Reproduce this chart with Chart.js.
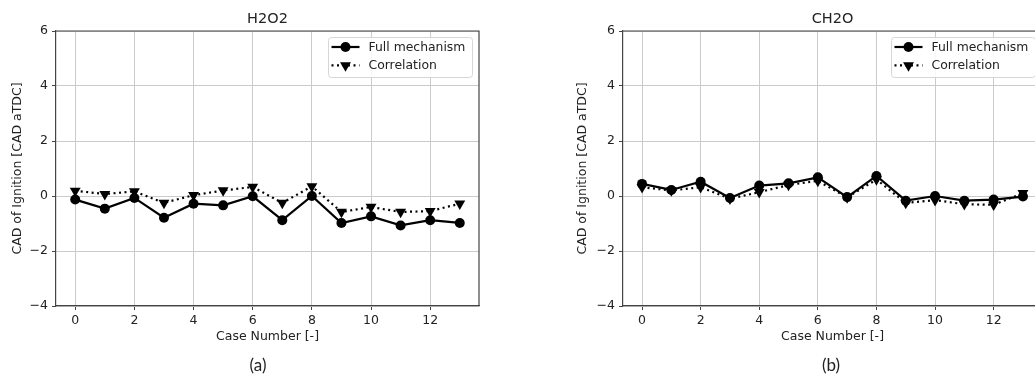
<!DOCTYPE html>
<html>
<head>
<meta charset="utf-8">
<script src="https://cdn.jsdelivr.net/npm/chart.js@4.4.1/dist/chart.umd.min.js"></script>
<style>
  html, body { margin: 0; padding: 0; background: #fff; }
  body { width: 1035px; height: 378px; overflow: hidden; position: relative; }
  canvas { position: absolute; top: 0; }
  #h2o2 { left: 0; }
  #ch2o { left: 517px; }
</style>
</head>
<body>
<canvas id="h2o2" width="517" height="378"></canvas>
<canvas id="ch2o" width="563" height="378"></canvas>
<script>
// Ignition timing per case: full chemistry vs. the fitted correlation
const caseNumbers = [0, 1, 2, 3, 4, 5, 6, 7, 8, 9, 10, 11, 12, 13];
const h2o2Full = [-0.13, -0.46, -0.07, -0.79, -0.28, -0.34, -0.01, -0.88, 0.0, -0.98, -0.74, -1.07, -0.88, -0.98];
const h2o2Corr = [0.19, 0.07, 0.17, -0.25, 0.03, 0.20, 0.33, -0.25, 0.35, -0.58, -0.40, -0.58, -0.55, -0.28];
const ch2oFull = [0.44, 0.22, 0.52, -0.07, 0.38, 0.46, 0.68, -0.04, 0.73, -0.17, 0.0, -0.17, -0.13, -0.02];
const ch2oCorr = [0.32, 0.20, 0.32, -0.10, 0.14, 0.40, 0.55, -0.05, 0.60, -0.25, -0.15, -0.30, -0.32, 0.10];
const xTicks = [0, 2, 4, 6, 8, 10, 12];
const yTicks = [-4, -2, 0, 2, 4, 6];
const seriesNames = ['Full mechanism', 'Correlation'];

const TEXT = '#222';
const SPINE = '#444';
const GRID = '#cbcbcb';
const FONT = '"DejaVu Sans", sans-serif';
const CIRCLE_R = 5;
const TRI_R = 6.3;

Chart.defaults.font.family = FONT;
Chart.defaults.font.size = 12.5;
Chart.defaults.color = TEXT;

const toPoints = ys => caseNumbers.map((x, i) => ({ x: x, y: ys[i] }));

// draws the top/right spines, the title, the legend box and the sub-caption
const figureDecor = {
    id: 'figureDecor',
    afterDraw(chart, args, opts) {
        const { ctx, chartArea: a } = chart;
        ctx.save();

        ctx.strokeStyle = SPINE;
        ctx.lineWidth = 1.2;
        ctx.beginPath();
        ctx.moveTo(a.left, a.top);
        ctx.lineTo(a.right, a.top);
        ctx.lineTo(a.right, a.bottom);
        ctx.stroke();

        ctx.fillStyle = TEXT;
        ctx.textAlign = 'center';
        ctx.textBaseline = 'middle';
        ctx.font = '14.5px ' + FONT;
        ctx.fillText(opts.title, (a.left + a.right) / 2, a.top - 12);

        ctx.font = '17px Lato, "Open Sans", sans-serif';
        ctx.fillText(opts.caption, opts.captionX, 366);

        // legend
        const w = 144, h = 40;
        const bx = a.right - 7 - w, by = a.top + 6;
        ctx.fillStyle = 'rgba(255,255,255,0.85)';
        ctx.strokeStyle = '#d6d6d6';
        ctx.lineWidth = 1;
        ctx.beginPath();
        ctx.roundRect(bx + 0.5, by + 0.5, w, h, 3);
        ctx.fill();
        ctx.stroke();

        const rows = [
            { label: seriesNames[0], dash: [], marker: 'circle' },
            { label: seriesNames[1], dash: [2, 3.5], marker: 'triangle' }
        ];
        rows.forEach((r, i) => {
            const y = by + 10 + i * 18.4;
            ctx.strokeStyle = '#000';
            ctx.lineWidth = 2.2;
            ctx.setLineDash(r.dash);
            ctx.beginPath();
            ctx.moveTo(bx + 3.5, y);
            ctx.lineTo(bx + 31.5, y);
            ctx.stroke();
            ctx.setLineDash([]);
            ctx.fillStyle = '#000';
            if (r.marker === 'circle') {
                Chart.helpers.drawPoint(ctx, { pointStyle: 'circle', radius: CIRCLE_R, borderWidth: 0, rotation: 0 }, bx + 17.5, y);
            } else {
                Chart.helpers.drawPoint(ctx, { pointStyle: 'triangle', radius: TRI_R, borderWidth: 0, rotation: 180 }, bx + 17.5, y);
            }
            ctx.fillStyle = TEXT;
            ctx.textAlign = 'left';
            ctx.font = '12.4px ' + FONT;
            ctx.fillText(r.label, bx + 40.5, y + 0.5);
        });
        ctx.restore();
    }
};

function makeChart(id, full, corr, opts) {
    const datasets = [
        {
            label: seriesNames[0],
            data: toPoints(full),
            borderColor: '#000',
            backgroundColor: '#000',
            borderWidth: 2.2,
            pointStyle: 'circle',
            pointRadius: CIRCLE_R,
            pointBorderWidth: 0,
            order: 1
        },
        {
            label: seriesNames[1],
            data: toPoints(corr),
            borderColor: '#000',
            backgroundColor: '#000',
            borderWidth: 2.2,
            borderDash: [2, 3.5],
            pointStyle: 'triangle',
            pointRotation: 180,
            pointRadius: TRI_R,
            pointBorderWidth: 0,
            order: 0
        }
    ];

    return new Chart(document.getElementById(id), {
        type: 'line',
        data: { datasets: datasets },
        options: {
            responsive: false,
            animation: false,
            devicePixelRatio: 1,
            layout: { padding: { left: opts.padLeft, right: 38, top: 31, bottom: 32 } },
            plugins: {
                legend: { display: false },
                tooltip: { enabled: false },
                figureDecor: { title: opts.title, caption: opts.caption, captionX: opts.captionX }
            },
            scales: {
                x: {
                    type: 'linear',
                    min: -0.65,
                    max: 13.65,
                    afterBuildTicks: s => { s.ticks = xTicks.map(v => ({ value: v })); },
                    afterFit: s => { s.height = 40; },
                    grid: { color: GRID, lineWidth: 1, tickColor: SPINE, tickLength: 4 },
                    border: { color: SPINE, width: 1.2 },
                    ticks: { padding: 3, color: TEXT, maxRotation: 0 },
                    title: {
                        display: true,
                        text: 'Case Number [-]',
                        color: TEXT,
                        font: { size: 12.5 },
                        padding: { top: 0, bottom: 1.5 }
                    }
                },
                y: {
                    min: -4,
                    max: 6,
                    afterBuildTicks: s => { s.ticks = yTicks.map(v => ({ value: v })); },
                    afterFit: s => { s.width = opts.yWidth; },
                    grid: { color: GRID, lineWidth: 1, tickColor: SPINE, tickLength: 4 },
                    border: { color: SPINE, width: 1.2 },
                    ticks: { padding: 4, color: TEXT, callback: v => String(v).replace('-', '\u2212') },
                    title: {
                        display: true,
                        text: 'CAD of Ignition [CAD aTDC]',
                        color: TEXT,
                        font: { size: 12.5 },
                        padding: { top: 10, bottom: 0 }
                    }
                }
            }
        },
        plugins: [figureDecor]
    });
}

makeChart('h2o2', h2o2Full, h2o2Corr, { title: 'H2O2', caption: '(a)', captionX: 258, padLeft: 0, yWidth: 56 });
makeChart('ch2o', ch2oFull, ch2oCorr, { title: 'CH2O', caption: '(b)', captionX: 314, padLeft: 48.5, yWidth: 57.5 });
</script>
</body>
</html>
